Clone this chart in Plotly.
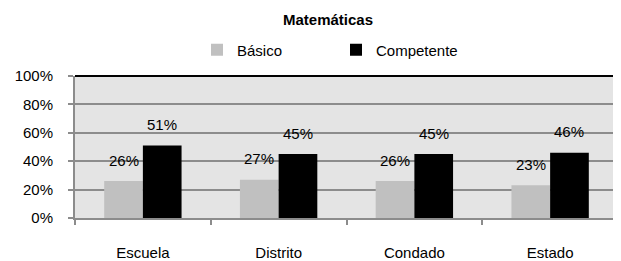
import plotly.graph_objects as go

categories = ["Escuela", "Distrito", "Condado", "Estado"]
basico = [0.26, 0.27, 0.26, 0.23]
competente = [0.51, 0.45, 0.45, 0.46]
series_names = ["Básico", "Competente"]
title_text = "Matemáticas"

FONT = "Liberation Sans, Arial, sans-serif"
OFF = 8  # default page body margin
W, H = 621 - OFF, 261 - OFF
ML, MR, MT, MB = 75 - OFF, 3, 76 - OFF, 43

fig = go.Figure()
fig.add_trace(go.Bar(x=categories, y=basico, name=series_names[0],
                     marker=dict(color="#c0c0c0", line=dict(width=0))))
fig.add_trace(go.Bar(x=categories, y=competente, name=series_names[1],
                     marker=dict(color="#000000", line=dict(width=0))))

plot_w = W - ML - MR
bargap = 0.43
bar_w = plot_w / len(categories) * (1 - bargap) / 2
annotations = []
for vals, sign in ((basico, -1), (competente, 1)):
    for c, v in zip(categories, vals):
        annotations.append(dict(x=c, y=v, xref="x", yref="y", text=f"{v:.0%}",
                                showarrow=False, xshift=sign * bar_w / 2, yshift=21,
                                font=dict(family=FONT, size=15, color="#000")))

fig.update_layout(
    width=W, height=H,
    margin=dict(l=ML, r=MR, t=MT, b=MB, pad=0, autoexpand=False),
    paper_bgcolor="white", plot_bgcolor="#e4e4e4",
    barmode="group", bargap=bargap, bargroupgap=0,
    font=dict(family=FONT, size=15, color="#000"),
    title=dict(text="<b>" + title_text + "</b>", x=(328 - OFF) / W, xanchor="center",
               xref="container", y=1 - (20 - OFF) / H, yref="container", yanchor="middle",
               font=dict(family=FONT, size=15, color="#000")),
    legend=dict(orientation="h", xref="container", yref="container",
                x=189 / W, xanchor="left", y=1 - (50 - OFF) / H, yanchor="middle",
                font=dict(family=FONT, size=15), bgcolor="rgba(0,0,0,0)",
                entrywidth=94, entrywidthmode="pixels", itemwidth=30,
                tracegroupgap=0),
    xaxis=dict(showline=True, linecolor="#8c8c8c", linewidth=2,
               ticks="outside", tickson="boundaries", ticklen=5, tickcolor="#8c8c8c",
               tickwidth=2, ticklabelstandoff=20, showgrid=False,
               tickfont=dict(family=FONT, size=15)),
    yaxis=dict(range=[0, 1], dtick=0.2, tickformat=".0%", showline=True,
               linecolor="#8c8c8c", linewidth=2, ticks="outside", ticklen=5,
               tickcolor="#8c8c8c", tickwidth=2, ticklabelstandoff=12,
               showgrid=True, gridcolor="#8c8c8c", gridwidth=2, zeroline=False,
               tickfont=dict(family=FONT, size=15)),
    annotations=annotations,
    shapes=[
        dict(type="line", xref="paper", yref="paper", x0=0, x1=1, y0=1, y1=1,
             line=dict(color="#000", width=2)),
        dict(type="line", xref="paper", yref="paper", x0=1, x1=1, y0=0, y1=1,
             line=dict(color="#000", width=2)),
    ],
)

fig.write_html("out.html")
